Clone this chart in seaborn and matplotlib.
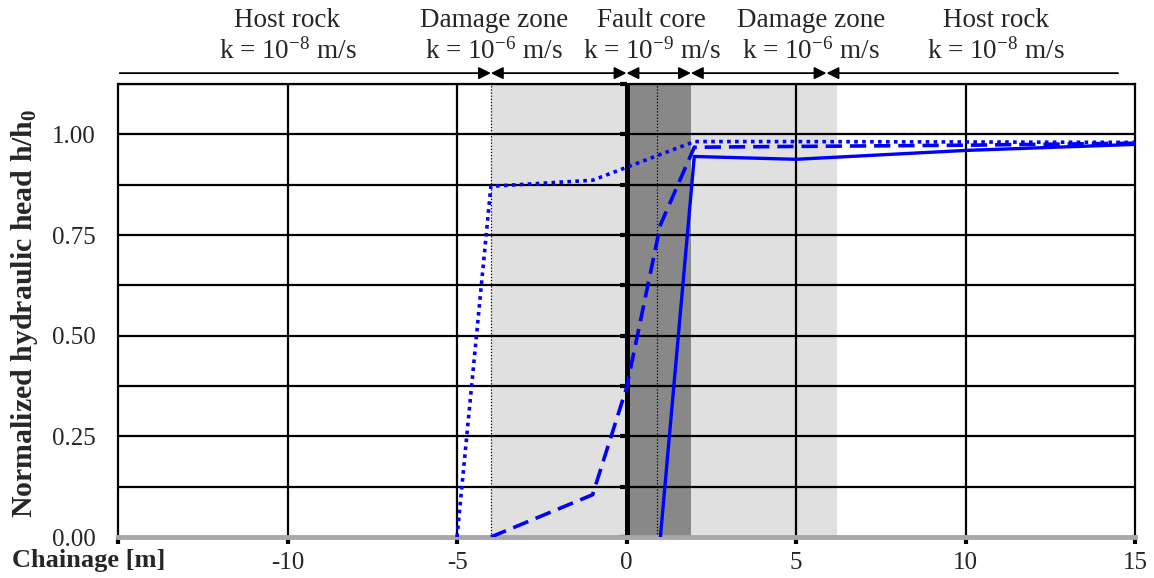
import numpy as np
import pandas as pd
import matplotlib
matplotlib.use("Agg")
import matplotlib.pyplot as plt
import seaborn as sns

# chainage [m] and normalized head for the three cases
x_solid = [1, 2, 5, 10, 15]
h_solid = [0.0, 0.945, 0.938, 0.960, 0.975]
x_dashed = [-4, -1, 0, 1, 2, 5, 10, 15]
h_dashed = [0.0, 0.105, 0.37, 0.775, 0.968, 0.970, 0.973, 0.978]
x_dotted = [-5, -4, -1, 0, 2, 5, 10, 15]
h_dotted = [0.0, 0.871, 0.886, 0.918, 0.982, 0.982, 0.981, 0.980]

# zones along the tunnel
zone_names = ["Host rock", "Damage zone", "Fault core", "Damage zone", "Host rock"]
zone_k = ["-8", "-6", "-9", "-6", "-8"]
zone_edges = [-14.95, -4, 0, 1.9, 5.9, 14.5]
damage_span = (-4, 6.2)
core_span = (0, 1.9)
dotted_marks = [-4, 0.9]

xticks = [-15, -10, -5, 0, 5, 10, 15]
xticklabels = ["", "-10", "-5", "0", "5", "10", "15"]
ymajor = [0.0, 0.25, 0.5, 0.75, 1.0]
ygrid = np.arange(0, 1.126, 0.125)

sns.set_style("white")
plt.rcParams["font.family"] = ["Liberation Serif", "DejaVu Serif"]
plt.rcParams["mathtext.fontset"] = "custom"
plt.rcParams["mathtext.rm"] = "Liberation Serif"
plt.rcParams["mathtext.bf"] = "Liberation Serif:bold"
plt.rcParams["axes.unicode_minus"] = False

fig = plt.figure(figsize=(11.54, 5.78), dpi=100)
ax = fig.add_axes([118 / 1154, 1 - 537 / 578, (1135 - 118) / 1154, (537 - 84) / 578])

ax.axvspan(*damage_span, color="#e0e0e0", zorder=0, lw=0)
ax.axvspan(*core_span, color="#888888", zorder=0.5, lw=0)

for g in ygrid[1:]:
    ax.axhline(g, color="black", lw=1.6, zorder=1)
for xv in [-10, -5, 5, 10]:
    ax.axvline(xv, color="black", lw=1.6, zorder=1)
for xv in dotted_marks:
    ax.axvline(xv, color="black", lw=0.9, ls=(0, (1, 1.5)), zorder=1)
ax.axvline(0, color="black", lw=3.6, zorder=2)
ax.plot(np.zeros(len(ygrid)), ygrid, ls="none", marker=0, ms=5, mew=3,
        color="black", zorder=2, clip_on=False)

sns.lineplot(x=x_solid, y=h_solid, ax=ax, color="blue", lw=2.4, sort=False, zorder=5)
sns.lineplot(x=x_dashed, y=h_dashed, ax=ax, color="blue", lw=2.6, sort=False,
             ls=(0, (4.5, 2.2)), zorder=5)
sns.lineplot(x=x_dotted, y=h_dotted, ax=ax, color="blue", lw=2.6, sort=False,
             ls=(0, (1, 1.2)), zorder=5)

ax.set_xlim(-15, 15)
ax.set_ylim(0, 1.125)
ax.set_xticks(xticks)
ax.set_xticklabels(xticklabels)
ax.set_yticks(ymajor)
ax.set_yticklabels([f"{v:.2f}" for v in ymajor])
ax.tick_params(axis="y", length=0, pad=16, labelsize=18)
ax.tick_params(axis="x", direction="out", length=5, width=3, pad=6, labelsize=18,
               color="black", bottom=True)
for side in ["left", "top", "right"]:
    ax.spines[side].set_color("black")
    ax.spines[side].set_linewidth(1.6)
ax.spines["bottom"].set_color("#a8a8a8")
ax.spines["bottom"].set_linewidth(3.5)
ax.set_xlabel("")
ax.set_ylabel("")

# zone arrows and labels above the plot
y_arrow = 1.152
n = len(zone_names)
for i in range(n):
    a, b = zone_edges[i], zone_edges[i + 1]
    if i == 0:
        style = "-|>"
    elif i == n - 1:
        style = "<|-"
    else:
        style = "<|-|>"
    ax.annotate("", xy=(b, y_arrow), xytext=(a, y_arrow), annotation_clip=False,
                arrowprops=dict(arrowstyle=style, color="black", lw=1.3,
                                shrinkA=0, shrinkB=0, mutation_scale=18))

label_x = [-10, -3.9, 0.75, 5.45, 10.9]
for xc, name, k in zip(label_x, zone_names, zone_k):
    ax.text(xc, 1.283, name, ha="center", va="center", fontsize=19.5, clip_on=False)
    ax.text(xc, 1.205, r"k = 10$\mathregular{^{" + k + "}}$ m/s", ha="center",
            va="center", fontsize=19.5, clip_on=False)

fig.text(25 / 1154, 1 - 313 / 578, r"Normalized hydraulic head h/h$\mathbf{_0}$",
         rotation=90, ha="center", va="center", fontsize=21.5, fontweight="bold")
fig.text(12 / 1154, 1 - 560 / 578, "Chainage [m]", ha="left", va="center",
         fontsize=19, fontweight="bold")

fig.savefig("out.png", dpi=100)
